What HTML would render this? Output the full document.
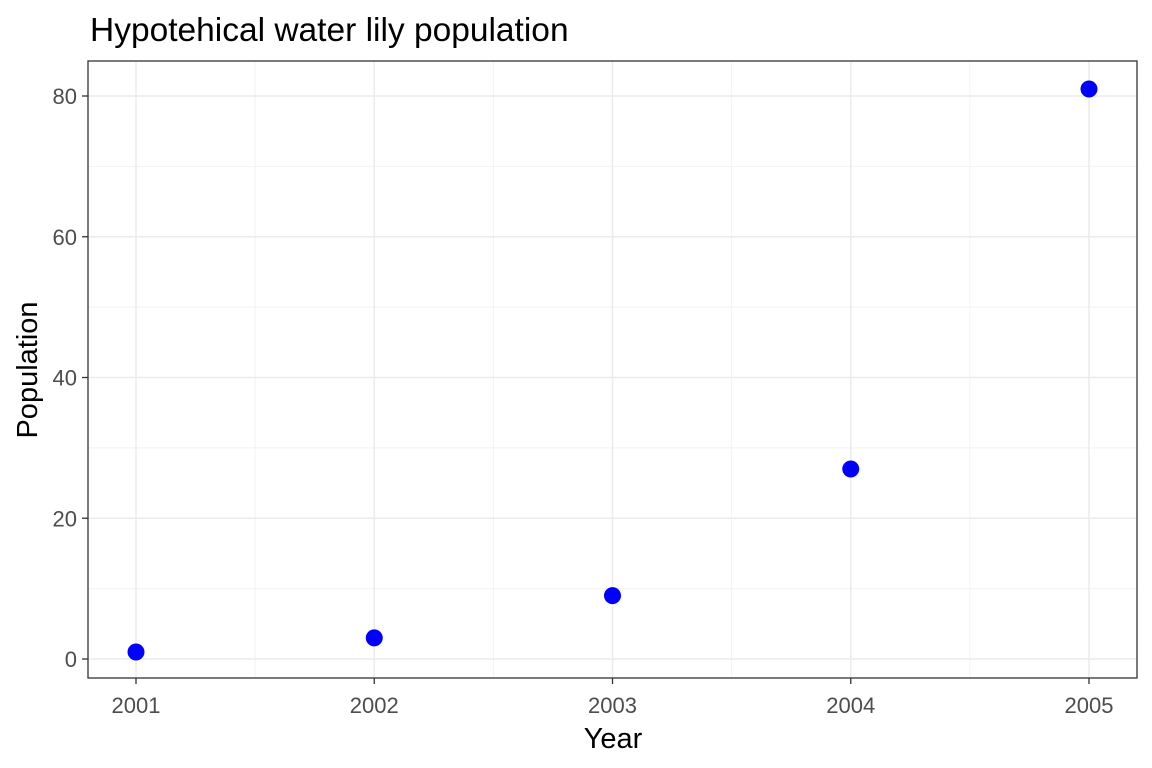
<!DOCTYPE html>
<html><head><meta charset="utf-8"><style>
body{margin:0;background:#fff;}
svg{display:block;font-family:"Liberation Sans",Arial,sans-serif;}
</style></head><body>
<svg id="chart" width="1152" height="768" viewBox="0 0 1152 768" xmlns="http://www.w3.org/2000/svg">
<rect width="1152" height="768" fill="#fff"/>
<text x="90" y="41" font-size="33.5" fill="#000">Hypotehical water lily population</text>
<g id="grid"></g>
<g id="points"></g>
<rect x="88" y="61" width="1049" height="617" fill="none" stroke="#333" stroke-width="1.3"/>
<g id="axes"></g>
<text x="613" y="748" font-size="29" text-anchor="middle" fill="#000">Year</text>
<text transform="translate(37,370) rotate(-90)" font-size="29" text-anchor="middle" fill="#000">Population</text>
</svg>
<script>
const years = [2001, 2002, 2003, 2004, 2005];
const population = [1, 3, 9, 27, 81];
const yTicks = [0, 20, 40, 60, 80];
const xTicks = [2001, 2002, 2003, 2004, 2005];
const NS = "http://www.w3.org/2000/svg";
function xScale(v){ return 136 + (v - 2001) * 238.25; }
function yScale(v){ return 659 - v * 7.0375; }
function mk(tag, attrs, parent){
  const e = document.createElementNS(NS, tag);
  for (const k in attrs) e.setAttribute(k, attrs[k]);
  parent.appendChild(e); return e;
}
const grid = document.getElementById('grid');
const axes = document.getElementById('axes');
const pts = document.getElementById('points');
for (let i = 0; i < xTicks.length - 1; i++) {
  const l = mk('line', {x1: xScale(xTicks[i] + 0.5), x2: xScale(xTicks[i] + 0.5), y1: 61, y2: 678, stroke: '#f2f2f2', 'stroke-width': 1}, grid);
  
  
}
for (let i = 0; i < yTicks.length - 1; i++) {
  const v = (yTicks[i] + yTicks[i + 1]) / 2;
  const l = mk('line', {x1: 88, x2: 1137, y1: yScale(v), y2: yScale(v), stroke: '#f2f2f2', 'stroke-width': 1}, grid);
  
  
}
xTicks.forEach(t => {
  const x = xScale(t);
  const l = mk('line', {x1: x, x2: x, y1: 61, y2: 678, stroke: '#ebebeb', 'stroke-width': 1.5}, grid);
  
  
  const tk = mk('line', {x1: x, x2: x, y1: 678, y2: 684, stroke: '#333', 'stroke-width': 1.3}, axes);
  
  
  const tx = mk('text', {x: x, y: 713, 'font-size': 22, 'text-anchor': 'middle', fill: '#4d4d4d'}, axes);
  tx.textContent = t;
  
  
});
yTicks.forEach(t => {
  const y = yScale(t);
  const l = mk('line', {x1: 88, x2: 1137, y1: y, y2: y, stroke: '#ebebeb', 'stroke-width': 1.5}, grid);
  
  
  const tk = mk('line', {x1: 82, x2: 88, y1: y, y2: y, stroke: '#333', 'stroke-width': 1.3}, axes);
  
  
  const tx = mk('text', {x: 77, y: y + 8, 'font-size': 22, 'text-anchor': 'end', fill: '#4d4d4d'}, axes);
  tx.textContent = t;
  
  
});
years.forEach((yr, i) => {
  const c = mk('circle', {cx: xScale(yr), cy: yScale(population[i]), r: 8.5, fill: '#0000ff'}, pts);
  
  
});
</script>
</body></html>
